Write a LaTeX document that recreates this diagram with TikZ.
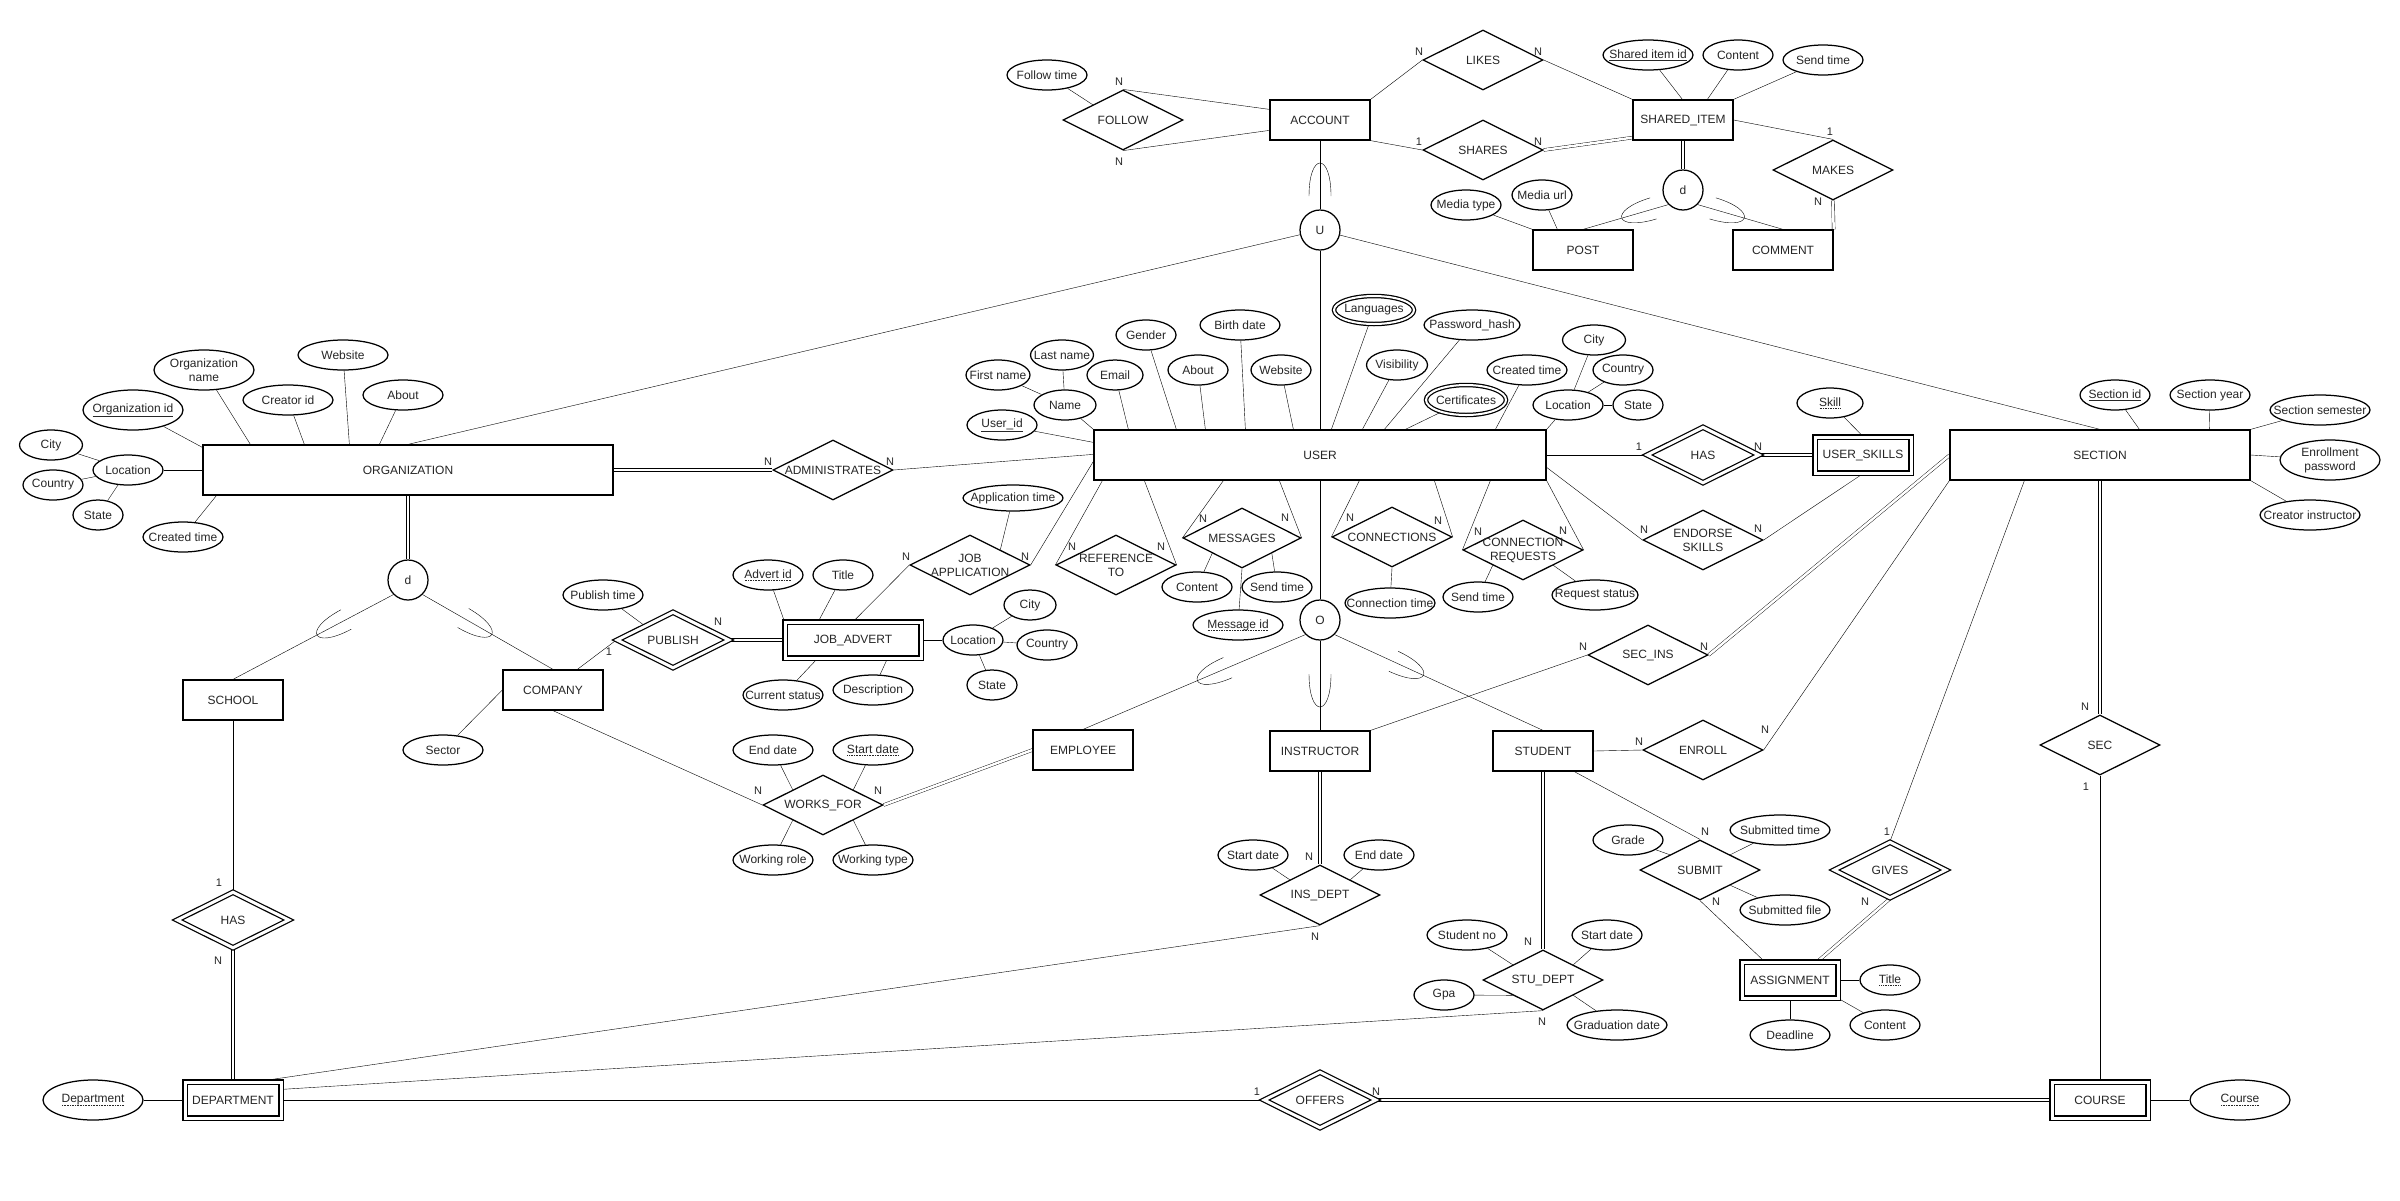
\documentclass[tikz,border=0pt]{standalone}
\usepackage{fontspec}
\setmainfont{Liberation Sans}
\usetikzlibrary{shapes.geometric,calc}
\pgfdeclarelayer{bg}
\pgfsetlayers{bg,main}
\newcommand\dotund[1]{\setbox0=\hbox{#1}\rlap{\raisebox{-2.5pt}{\hbox to \wd0{\xleaders\hbox to 1.6pt{\hss\rule{0.8pt}{0.6pt}\hss}\hfill}}}\box0}
\begin{document}
\begin{tikzpicture}[x=1pt,y=-1pt,line width=1.25pt,
 every node/.style={font=\fontsize{12}{14}\selectfont, text=black!85, inner sep=0pt},
 ent/.style={draw, rectangle, minimum width=100pt, minimum height=40pt},
 went/.style={ent, double, double distance=3pt, minimum width=96pt, minimum height=36pt},
 rel/.style={draw, diamond, minimum width=120pt, minimum height=60pt},
 wrel/.style={rel, double, double distance=3pt, minimum width=112pt, minimum height=56pt},
 att/.style={draw, ellipse, minimum width=80pt, minimum height=30pt},
 matt/.style={att, double, double distance=2pt},
 gen/.style={draw, circle, minimum size=40pt},
 tx/.style={label={[align=center]center:{#1}}},
 card/.style={font=\fontsize{11}{13}\selectfont},
 tot/.style={double, double distance=2.5pt},
 subset/.pic={\draw (16,11) .. controls (-28,11) and (-28,-11) .. (16,-11);}
]
\useasboundingbox (0,0) rectangle (2400,1200);
% ---------- top cluster
\node[ent, tx=ACCOUNT] (account) at (1320,120) {};
\node[rel, tx=FOLLOW] (follow) at (1123,120) {};
\node[att, tx={Follow time}] (followtime) at (1047,75) {};
\node[rel, tx=LIKES] (likes) at (1483,60) {};
\node[rel, tx=SHARES] (shares) at (1483,150) {};
\node[ent, tx={SHARED\_ITEM}] (shared) at (1683,120) {};
\node[att, minimum width=90pt, tx={\underline{Shared item id}}] (sid) at (1648,55) {};
\node[att, minimum width=70pt, tx=Content] (scontent) at (1738,55) {};
\node[att, tx={Send time}] (ssend) at (1823,60) {};
\node[rel, tx=MAKES] (makes) at (1833,170) {};
\node[gen] (dshared) at (1683,190) {d};
\node[ent, tx=POST] (post) at (1583,250) {};
\node[ent, tx=COMMENT] (comment) at (1783,250) {};
\node[att, minimum width=70pt, tx={Media type}] (mediatype) at (1466,205) {};
\node[att, minimum width=60pt, tx={Media url}] (mediaurl) at (1542,195) {};
\node[gen] (ucirc) at (1320,230) {U};
% ---------- organization
\node[ent, minimum width=410pt, minimum height=50pt, tx=ORGANIZATION] (org) at (408,470) {};
\node[att, minimum width=100pt, minimum height=40pt, tx={\underline{Organization id}}] (orgid) at (133,410) {};
\node[att, minimum width=100pt, minimum height=40pt, tx={Organization\\name}] (orgname) at (204,370) {};
\node[att, minimum width=90pt, tx={Creator id}] (creatorid) at (288,400) {};
\node[att, minimum width=90pt, tx=Website] (orgweb) at (343,355) {};
\node[att, tx=About] (orgabout) at (403,395) {};
\node[att, minimum width=70pt, tx=Location] (orgloc) at (128,470) {};
\node[att, minimum width=63pt, tx=City] (orgcity) at (51,445) {};
\node[att, minimum width=60pt, tx=Country] (orgcountry) at (53,485) {};
\node[att, minimum width=50pt, tx=State] (orgstate) at (98,515) {};
\node[att, tx={Created time}] (orgcreated) at (183,537) {};
\node[gen] (dorg) at (408,580) {d};
\node[ent, tx=SCHOOL] (school) at (233,700) {};
\node[ent, tx=COMPANY] (company) at (553,690) {};
\node[att, tx=Sector] (sector) at (443,750) {};
\node[att, tx={Publish time}] (pubtime) at (603,595) {};
\node[wrel, tx=PUBLISH] (publish) at (673,640) {};
\node[went, minimum width=136pt, tx={JOB\_ADVERT}] (jobadvert) at (853,640) {};
\node[att, minimum width=70pt, tx={\dotund{Advert id}}] (advertid) at (768,575) {};
\node[att, minimum width=60pt, tx=Title] (adtitle) at (843,575) {};
\node[att, tx={Current status}] (curstatus) at (783,695) {};
\node[att, tx=Description] (descr) at (873,690) {};
\node[att, minimum width=60pt, tx=Location] (jobloc) at (973,640) {};
\node[att, minimum width=52pt, tx=City] (jobcity) at (1030,605) {};
\node[att, minimum width=60pt, tx=Country] (jobcountry) at (1047,645) {};
\node[att, minimum width=50pt, tx=State] (jobstate) at (992,685) {};
\node[rel, tx={JOB\\APPLICATION}] (jobapp) at (970,565) {};
\node[att, minimum width=100pt, minimum height=26pt, tx={Application time}] (apptime) at (1013,498) {};
\node[rel, tx=ADMINISTRATES] (admin) at (833,470) {};
% ---------- user
\node[ent, minimum width=452pt, minimum height=50pt, tx=USER] (user) at (1320,455) {};
\node[att, minimum width=70pt, tx={\underline{User\_id}}] (userid) at (1002,425) {};
\node[att, minimum width=62pt, tx=Name] (name) at (1065,405) {};
\node[att, minimum width=64pt, tx={First name}] (firstname) at (998,375) {};
\node[att, minimum width=63pt, tx={Last name}] (lastname) at (1062,355) {};
\node[att, minimum width=56pt, tx=Email] (email) at (1115,375) {};
\node[att, minimum width=60pt, tx=Gender] (gender) at (1146,335) {};
\node[att, minimum width=60pt, tx=About] (uabout) at (1198,370) {};
\node[att, tx={Birth date}] (birth) at (1240,325) {};
\node[att, minimum width=60pt, tx=Website] (uweb) at (1281,370) {};
\node[matt, minimum height=28pt, tx=Languages] (languages) at (1374,310) {};
\node[att, minimum width=61pt, tx=Visibility] (visibility) at (1397,365) {};
\node[att, minimum width=96pt, tx={Password\_hash}] (password) at (1472,325) {};
\node[matt, tx=Certificates] (certs) at (1466,400) {};
\node[att, tx={Created time}] (ucreated) at (1527,370) {};
\node[att, minimum width=70pt, tx=Location] (uloc) at (1568,405) {};
\node[att, minimum width=63pt, tx=City] (ucity) at (1594,340) {};
\node[att, minimum width=60pt, tx=Country] (ucountry) at (1623,370) {};
\node[att, minimum width=50pt, tx=State] (ustate) at (1638,405) {};
\node[rel, tx={REFERENCE\\TO}] (refto) at (1116,565) {};
\node[rel, minimum width=118pt, tx=MESSAGES] (messages) at (1242,538) {};
\node[att, minimum width=70pt, tx=Content] (mcontent) at (1197,587) {};
\node[att, minimum width=70pt, tx={Send time}] (msend) at (1277,587) {};
\node[att, minimum width=90pt, tx={\dotund{Message id}}] (messageid) at (1238,625) {};
\node[rel, tx=CONNECTIONS] (connections) at (1392,537) {};
\node[att, minimum width=90pt, tx={Connection time}] (conntime) at (1390,603) {};
\node[rel, tx={CONNECTION\\REQUESTS}] (connreq) at (1523,550) {};
\node[att, minimum width=70pt, tx={Send time}] (crsend) at (1478,597) {};
\node[att, minimum width=86pt, tx={Request status}] (crstatus) at (1595,595) {};
\node[wrel, tx=HAS] (uhas) at (1703,455) {};
\node[went, tx={USER\_SKILLS}] (userskills) at (1863,455) {};
\node[att, minimum width=66pt, tx={\dotund{Skill}}] (skill) at (1830,403) {};
\node[rel, tx={ENDORSE\\SKILLS}] (endorse) at (1703,540) {};
\node[rel, tx={SEC\_INS}] (secins) at (1648,655) {};
\node[gen] (ocirc) at (1320,620) {O};
\node[ent, tx=EMPLOYEE] (employee) at (1083,750) {};
\node[ent, tx=INSTRUCTOR] (instructor) at (1320,751) {};
\node[ent, tx=STUDENT] (student) at (1543,751) {};
% ---------- lower part
\node[rel, tx={WORKS\_FOR}] (worksfor) at (823,805) {};
\node[att, tx={End date}] (wend) at (773,750) {};
\node[att, tx={\dotund{Start date}}] (wstart) at (873,750) {};
\node[att, tx={Working role}] (wrole) at (773,860) {};
\node[att, tx={Working type}] (wtype) at (873,860) {};
\node[rel, tx={INS\_DEPT}] (insdept) at (1320,895) {};
\node[att, minimum width=70pt, tx={Start date}] (idstart) at (1253,855) {};
\node[att, minimum width=70pt, tx={End date}] (idend) at (1379,855) {};
\node[rel, tx={STU\_DEPT}] (studept) at (1543,980) {};
\node[att, tx={Student no}] (studentno) at (1467,935) {};
\node[att, minimum width=70pt, tx={Start date}] (sdstart) at (1607,935) {};
\node[att, minimum width=60pt, tx=Gpa] (gpa) at (1444,995) {};
\node[att, minimum width=100pt, tx={Graduation date}] (graddate) at (1617,1025) {};
\node[rel, tx=ENROLL] (enroll) at (1703,750) {};
\node[rel, tx=SUBMIT] (submit) at (1700,870) {};
\node[att, minimum width=70pt, tx=Grade] (grade) at (1628,840) {};
\node[att, minimum width=100pt, tx={Submitted time}] (subtime) at (1780,830) {};
\node[att, minimum width=90pt, tx={Submitted file}] (subfile) at (1785,910) {};
\node[went, tx=ASSIGNMENT] (assignment) at (1790,980) {};
\node[att, minimum width=60pt, tx={\dotund{Title}}] (atitle) at (1890,980) {};
\node[att, minimum width=70pt, tx=Content] (acontent) at (1885,1025) {};
\node[att, tx=Deadline] (deadline) at (1790,1035) {};
\node[wrel, tx=GIVES] (gives) at (1890,870) {};
\node[ent, minimum width=300pt, minimum height=50pt, tx=SECTION] (section) at (2100,455) {};
\node[att, minimum width=70pt, tx={\underline{Section id}}] (secid) at (2115,395) {};
\node[att, tx={Section year}] (secyear) at (2210,395) {};
\node[att, minimum width=100pt, tx={Section semester}] (secsem) at (2320,410) {};
\node[att, minimum width=100pt, minimum height=40pt, tx={Enrollment\\password}] (enrollpw) at (2330,460) {};
\node[att, minimum width=100pt, tx={Creator instructor}] (creatorins) at (2310,515) {};
\node[rel, tx=SEC] (sec) at (2100,745) {};
\node[went, tx=COURSE] (course) at (2100,1100) {};
\node[att, minimum width=100pt, minimum height=40pt, tx={\dotund{Course}}] (courseattr) at (2240,1100) {};
\node[wrel, tx=OFFERS] (offers) at (1320,1100) {};
\node[went, tx=DEPARTMENT] (department) at (233,1100) {};
\node[att, minimum width=100pt, minimum height=40pt, tx={\dotund{Department}}] (deptattr) at (93,1100) {};
\node[wrel, tx=HAS] (dhas) at (233,920) {};
% ---------- cardinalities
\node[card] (c1) at (1119,82) {N};
\node[card] (c2) at (1119,162) {N};
\node[card] (c3) at (1419,52) {N};
\node[card] (c4) at (1538,52) {N};
\node[card] (c5) at (1419,142) {1};
\node[card] (c6) at (1538,142) {N};
\node[card] (c7) at (1830,132) {1};
\node[card] (c8) at (1818,202) {N};
\node[card] (c9) at (609,652) {1};
\node[card] (c10) at (718,622) {N};
\node[card] (c11) at (768,462) {N};
\node[card] (c12) at (890,462) {N};
\node[card] (c13) at (906,557) {N};
\node[card] (c14) at (1025,557) {N};
\node[card] (c15) at (1072,547) {N};
\node[card] (c16) at (1161,547) {N};
\node[card] (c17) at (1203,519) {N};
\node[card] (c18) at (1285,518) {N};
\node[card] (c19) at (1350,518) {N};
\node[card] (c20) at (1438,521) {N};
\node[card] (c21) at (1478,532) {N};
\node[card] (c22) at (1563,531) {N};
\node[card] (c23) at (1639,447) {1};
\node[card] (c24) at (1758,447) {N};
\node[card] (c25) at (1644,530) {N};
\node[card] (c26) at (1758,529) {N};
\node[card] (c27) at (1583,647) {N};
\node[card] (c28) at (1704,647) {N};
\node[card] (c29) at (1639,742) {N};
\node[card] (c30) at (1765,730) {N};
\node[card] (c31) at (1705,832) {N};
\node[card] (c32) at (1716,902) {N};
\node[card] (c33) at (1887,832) {1};
\node[card] (c34) at (1865,902) {N};
\node[card] (c35) at (2085,707) {N};
\node[card] (c36) at (2086,787) {1};
\node[card] (c37) at (758,791) {N};
\node[card] (c38) at (878,791) {N};
\node[card] (c39) at (1309,857) {N};
\node[card] (c40) at (1315,937) {N};
\node[card] (c41) at (1528,942) {N};
\node[card] (c42) at (1542,1022) {N};
\node[card] (c43) at (1257,1092) {1};
\node[card] (c44) at (1376,1092) {N};
\node[card] (c45) at (219,883) {1};
\node[card] (c46) at (218,961) {N};
% ---------- connectors
\begin{pgfonlayer}{bg}
\fill[white] (0,0) rectangle (2400,1200);
\draw (follow.north) -- ([yshift=-10pt]account.north west);
\draw (follow.south) -- ([yshift=-31pt]account.north west);
\draw (followtime) -- ($(follow.west)!0.5!(follow.north)$);
\draw (account.north east) -- (likes.west);
\draw (likes.east) -- (shared.north west);
\draw (account.south east) -- (shares.west);
\draw[tot] (shares.east) -- ([yshift=3pt]shared.south west);
\draw (sid) -- ([xshift=50pt]shared.north west);
\draw (scontent) -- ([xshift=75pt]shared.north west);
\draw (ssend) -- (shared.north east);
\draw (shared.east) -- (makes.north);
\draw[tot] (makes.south) -- (comment.north east);
\draw[tot] (shared.south) -- (dshared);
\draw (dshared.south west) -- (post.north);
\draw (dshared.south east) -- (comment.north);
\draw (mediatype) -- (post.north west);
\draw (mediaurl) -- ([xshift=25pt]post.north west);
\pic[rotate=16.8] at (1638,213) {subset};
\pic[rotate=163.2] at (1728,213) {subset};
\draw (account.south) -- (ucirc);
\pic[rotate=-90] at (1320,180) {subset};
\draw (ucirc) -- (org.north);
\draw (ucirc) -- (section.north);
\draw (ucirc) -- (user.north);
% organization
\draw (orgid) -- ([yshift=-3pt]org.north west);
\draw (orgname) -- ([xshift=48pt]org.north west);
\draw (creatorid) -- ([xshift=102pt]org.north west);
\draw (orgweb) -- ([xshift=147pt]org.north west);
\draw (orgabout) -- ([xshift=177pt]org.north west);
\draw (orgloc) -- (org.west);
\draw (orgcity) -- (orgloc);
\draw (orgcountry) -- (orgloc);
\draw (orgstate) -- (orgloc);
\draw (orgcreated) -- ([xshift=14pt]org.south west);
\draw[tot] (org.south) -- (dorg);
\draw (dorg.south west) -- (school.north);
\draw (dorg.south east) -- (company.north);
\pic[rotate=28.1] at (332,627) {subset};
\pic[rotate=149.9] at (477,626) {subset};
\draw (sector) -- (company.west);
\draw (pubtime) -- ($(publish.west)!0.5!(publish.north)$);
\draw ([xshift=75pt]company.north west) -- (publish.west);
\draw[tot] (publish.east) -- (jobadvert.west);
\draw (advertid) -- (jobadvert.north west);
\draw (adtitle) -- ([xshift=34pt]jobadvert.north west);
\draw (curstatus) -- ([xshift=33pt]jobadvert.south west);
\draw (descr) -- ([xshift=103pt]jobadvert.south west);
\draw (jobloc) -- (jobadvert.east);
\draw (jobcity) -- (jobloc);
\draw (jobcountry) -- (jobloc);
\draw (jobstate) -- (jobloc);
\draw ([xshift=69pt]jobadvert.north west) -- (jobapp.west);
\draw (jobapp.east) -- ([yshift=-32pt]user.north west);
\draw (apptime) -- ($(jobapp.north)!0.5!(jobapp.east)$);
\draw[tot] (org.east) -- (admin.west);
\draw (admin.east) -- ([yshift=-25pt]user.north west);
% user
\draw (userid) -- ([yshift=-13pt]user.north west);
\draw (name) -- (user.north west);
\draw (firstname) -- (name);
\draw (lastname) -- (name);
\draw (email) -- ([xshift=35pt]user.north west);
\draw (gender) -- ([xshift=83pt]user.north west);
\draw (uabout) -- ([xshift=112pt]user.north west);
\draw (birth) -- ([xshift=152pt]user.north west);
\draw (uweb) -- ([xshift=200pt]user.north west);
\draw (languages) -- ([xshift=238pt]user.north west);
\draw (visibility) -- ([xshift=269pt]user.north west);
\draw (password) -- ([xshift=291pt]user.north west);
\draw (certs) -- ([xshift=312pt]user.north west);
\draw (ucreated) -- ([xshift=402pt]user.north west);
\draw (uloc) -- (user.north east);
\draw (ucity) -- (uloc);
\draw (ucountry) -- (uloc);
\draw (ustate) -- (uloc);
\draw (refto.west) -- ([xshift=9pt]user.south west);
\draw (refto.east) -- ([xshift=51pt]user.south west);
\draw (messages.west) -- ([xshift=130pt]user.south west);
\draw (messages.east) -- ([xshift=186pt]user.south west);
\draw (mcontent) -- ($(messages.west)!0.5!(messages.south)$);
\draw (msend) -- ($(messages.east)!0.5!(messages.south)$);
\draw (messageid) -- (messages.south);
\draw (connections.west) -- ([xshift=266pt]user.south west);
\draw (connections.east) -- ([xshift=341pt]user.south west);
\draw (conntime) -- (connections.south);
\draw (connreq.west) -- ([xshift=397pt]user.south west);
\draw (connreq.east) -- (user.south east);
\draw (crsend) -- ($(connreq.west)!0.5!(connreq.south)$);
\draw (crstatus) -- ($(connreq.east)!0.5!(connreq.south)$);
\draw (user.east) -- (uhas.west);
\draw[tot] (uhas.east) -- (userskills.west);
\draw (skill) -- (userskills.north);
\draw (endorse.west) -- ([yshift=-38pt]user.north east);
\draw (endorse.east) -- (userskills.south);
\draw (secins.west) -- (instructor.north east);
\draw[tot] (secins.east) -- ([yshift=-26pt]section.north west);
\draw (user.south) -- (ocirc);
\draw (ocirc) -- (instructor.north);
\pic[rotate=90] at (1320,690) {subset};
\draw (ocirc.south west) -- (employee.north);
\pic[rotate=23.3] at (1213,674) {subset};
\draw (ocirc.south east) -- (student.north);
\pic[rotate=155.1] at (1408,668) {subset};
% lower
\draw (company.south) -- (worksfor.west);
\draw[tot] (worksfor.east) -- (employee.west);
\draw (wend) -- ($(worksfor.west)!0.5!(worksfor.north)$);
\draw (wstart) -- ($(worksfor.east)!0.5!(worksfor.north)$);
\draw (wrole) -- ($(worksfor.west)!0.5!(worksfor.south)$);
\draw (wtype) -- ($(worksfor.east)!0.5!(worksfor.south)$);
\draw[tot] (instructor.south) -- (insdept.north);
\draw (insdept.south) -- ([xshift=74pt]department.north west);
\draw (idstart) -- ($(insdept.west)!0.5!(insdept.north)$);
\draw (idend) -- ($(insdept.east)!0.5!(insdept.north)$);
\draw[tot] (student.south) -- (studept.north);
\draw (studept.south) -- ([yshift=-8pt]department.north east);
\draw (studentno) -- ($(studept.west)!0.5!(studept.north)$);
\draw (sdstart) -- ($(studept.east)!0.5!(studept.north)$);
\draw (gpa) -- ($(studept.west)!0.5!(studept.south)$);
\draw (graddate) -- ($(studept.east)!0.5!(studept.south)$);
\draw (student.east) -- (enroll.west);
\draw (enroll.east) -- (section.south west);
\draw ([xshift=82pt]student.south west) -- (submit.north);
\draw (submit.south) -- ([xshift=23pt]assignment.north west);
\draw (grade) -- ($(submit.west)!0.5!(submit.north)$);
\draw (subtime) -- ($(submit.east)!0.5!(submit.north)$);
\draw (subfile) -- ($(submit.east)!0.5!(submit.south)$);
\draw (atitle) -- (assignment.east);
\draw (acontent) -- (assignment.south east);
\draw (deadline) -- (assignment.south);
\draw (gives.north) -- ([xshift=75pt]section.south west);
\draw[tot] (gives.south) -- ([xshift=-21pt]assignment.north east);
\draw (secid) -- ([xshift=190pt]section.north west);
\draw (secyear) -- ([xshift=260pt]section.north west);
\draw (secsem) -- (section.north east);
\draw (enrollpw) -- (section.east);
\draw (creatorins) -- (section.south east);
\draw[tot] (section.south) -- (sec.north);
\draw (sec.south) -- (course.north);
\draw (courseattr) -- (course.east);
\draw (department.east) -- (offers.west);
\draw[tot] (offers.east) -- (course.west);
\draw (deptattr) -- (department.west);
\draw (school.south) -- (dhas.north);
\draw[tot] (dhas.south) -- (department.north);
\end{pgfonlayer}
\end{tikzpicture}
\end{document}
